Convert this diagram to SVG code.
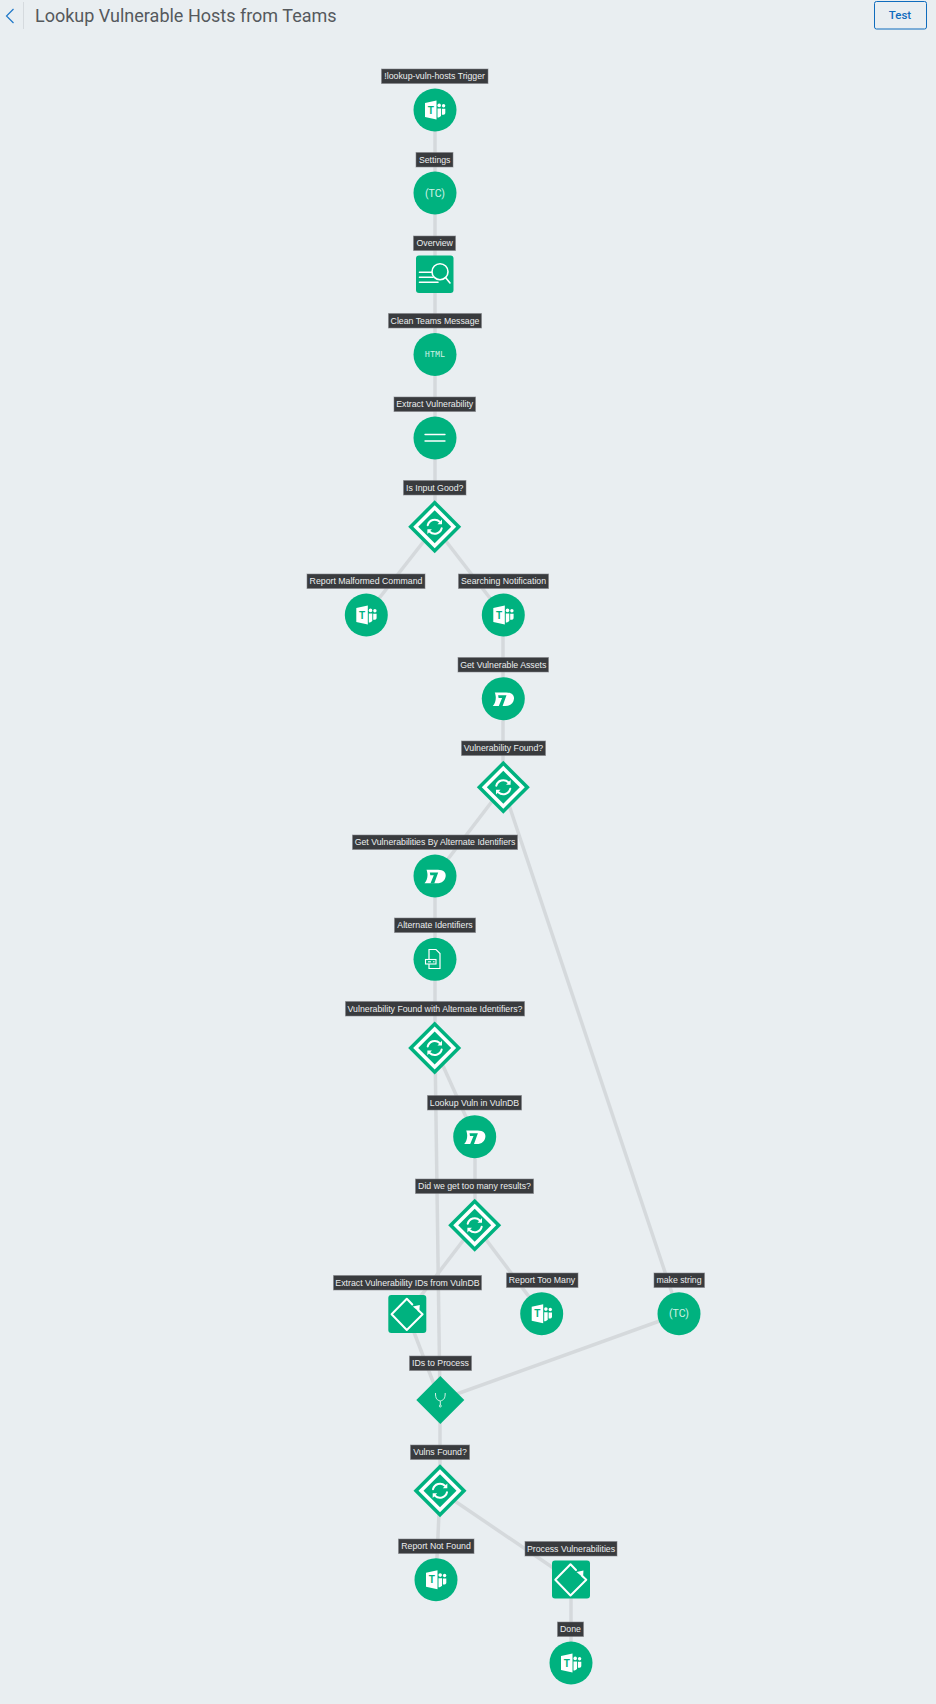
<svg xmlns="http://www.w3.org/2000/svg" width="936" height="1704" viewBox="0 0 936 1704">
<style>
.lbl rect{fill:#333538;stroke:#7d8083;stroke-width:1;stroke-opacity:.55;fill-opacity:.97}
.lbl text{font:8.75px "Liberation Sans",Arial,sans-serif;fill:#eceeef;text-anchor:middle}
.g{fill:#00b27f}
.w{fill:#fff}
.ln{fill:none;stroke:#fff;stroke-linecap:round}
.tc{font:400 10.5px Roboto,sans-serif;fill:#d0f3e6;text-anchor:middle}
#connectors line{stroke:#d5d9dc;stroke-width:3.5}
</style>
<defs>
<circle id="disc" r="21.5" class="g"/>
<g id="teams">
<circle r="21.5" class="g"/>
<path class="w" d="M-10 -7L1.5 -9.5V9.5L-10 7Z"/>
<text x="-4.3" y="3.6" font-family="Liberation Sans,sans-serif" font-weight="700" font-size="10" text-anchor="middle" fill="#00b27f">T</text>
<circle cx="4.2" cy="-4.6" r="1.8" class="w"/>
<circle cx="8.6" cy="-4.2" r="1.7" class="w"/>
<path class="w" d="M2.5 -1.5H6V5.5C5.5 7 4 7.5 2.5 7.5Z"/>
<path class="w" d="M6.9 -1.2H10.3V3C10.3 4.5 8.5 5 6.9 4.8Z"/>
</g>
<g id="d7">
<circle r="21.5" class="g"/>
<path class="w" d="M-8.5 -6.3H3C8.5 -6.3 11 -3.5 10.7 0C10.3 4.5 7 7.3 2 7.3H-10.5C-8.5 5 -7.5 2 -7.5 -1C-7.5 -3 -8 -5 -8.5 -6.3Z"/>
<path class="g" d="M-5.2 -3.4H3.2L-.8 7.6H-4.6L-1.2 -.8H-4.7Z"/>
</g>
<g id="cond">
<path class="g" d="M0 -26.5L26.5 0L0 26.5L-26.5 0Z"/>
<path class="w" d="M0 -21.5L21.5 0L0 21.5L-21.5 0Z"/>
<path class="g" d="M0 -16.5L16.5 0L0 16.5L-16.5 0Z"/>
<path class="ln" stroke-width="2" stroke-linecap="butt" d="M-7 -1.5A7.2 7.2 0 0 1 5 -5"/>
<path class="ln" stroke-width="2" stroke-linecap="butt" d="M7 1.5A7.2 7.2 0 0 1 -5 5"/>
<path class="w" d="M7.3 -7.3V-2.5H2.8Z"/>
<path class="w" d="M-7.3 7.3V2.5H-2.8Z"/>
</g>
<g id="loop">
<rect x="-19" y="-19" width="38" height="38" rx="3" class="g"/>
<path class="ln" stroke-width="2" stroke-linejoin="round" d="M5 -9.5L-.5 -15.3L-15.7 .3L-.5 16L15.3 .3L11 -3.7"/>
<path class="w" d="M5.5 -7.5L12.5 -9L12 -2Z"/>
</g>
</defs>
<rect width="936" height="1704" fill="#e9eef1"/>
<g id="header">
<path d="M13.5 9L6.5 16L13.5 23" fill="none" stroke="#1f78c8" stroke-width="1.2"/>
<line x1="23.5" y1="2" x2="23.5" y2="29" stroke="#d5dade" stroke-width="1"/>
<text x="35" y="22" font-family="Roboto,sans-serif" font-size="18" fill="#55595d">Lookup Vulnerable Hosts from Teams</text>
<rect x="874.5" y="1.5" width="52" height="27.5" rx="2" fill="none" stroke="#0f6cbd" stroke-width="1"/>
<text x="900" y="19" font-family="Roboto,sans-serif" font-size="11.5" font-weight="500" text-anchor="middle" fill="#0f6cbd">Test</text>
</g>
<g id="connectors">
<line x1="435" y1="110" x2="435" y2="527"/>
<line x1="435" y1="527" x2="366" y2="615"/>
<line x1="435" y1="527" x2="503" y2="615"/>
<line x1="503" y1="615" x2="503" y2="787"/>
<line x1="503" y1="787" x2="435" y2="876"/>
<line x1="503" y1="787" x2="679" y2="1314"/>
<line x1="435" y1="876" x2="435" y2="1048"/>
<line x1="435" y1="1048" x2="475" y2="1137"/>
<line x1="435" y1="1048" x2="440" y2="1400"/>
<line x1="475" y1="1137" x2="475" y2="1225"/>
<line x1="475" y1="1225" x2="407" y2="1314"/>
<line x1="475" y1="1225" x2="542" y2="1314"/>
<line x1="407" y1="1314" x2="440" y2="1400"/>
<line x1="679" y1="1314" x2="440" y2="1400"/>
<line x1="440" y1="1400" x2="440" y2="1491"/>
<line x1="440" y1="1491" x2="436" y2="1580"/>
<line x1="440" y1="1491" x2="571" y2="1580"/>
<line x1="571" y1="1580" x2="571" y2="1663"/>
</g>
<g id="n1"><use href="#teams" x="435" y="110"/><g class="lbl"><rect x="381.5" y="69" width="106.5" height="14.5"/><text x="434.7" y="79.2">!lookup-vuln-hosts Trigger</text></g></g>
<g id="n2"><use href="#disc" x="435" y="193"/><text x="435" y="196.7" class="tc">(TC)</text><g class="lbl"><rect x="416" y="152.5" width="37" height="14.5"/><text x="434.7" y="162.7">Settings</text></g></g>
<g id="n3"><rect x="416" y="255.5" width="37.5" height="37.5" rx="3" class="g"/><circle cx="440" cy="271.7" r="8" fill="none" stroke="#fff" stroke-width="1.6"/><path class="ln" stroke-width="1.6" d="M445.5 277.5L450 283M419.5 272.3H431.5M419.5 277.3H433M419.5 282.3H438"/><g class="lbl"><rect x="413.5" y="236" width="42" height="14.5"/><text x="434.7" y="246.2">Overview</text></g></g>
<g id="n4"><use href="#disc" x="435" y="354.5"/><text x="435" y="357.3" font-family="Liberation Mono,monospace" font-size="8.5" text-anchor="middle" fill="#d0f3e6">HTML</text><g class="lbl"><rect x="388.5" y="313.5" width="93" height="14.5"/><text x="435" y="323.7">Clean Teams Message</text></g></g>
<g id="n5"><use href="#disc" x="435" y="438"/><path class="ln" stroke-width="1.3" d="M425 434.5H445M425 441H445"/><g class="lbl"><rect x="394" y="397" width="81.5" height="14.5"/><text x="434.7" y="407.2">Extract Vulnerability</text></g></g>
<g id="n6"><use href="#cond" x="434.7" y="526.7"/><g class="lbl"><rect x="403.5" y="480.5" width="62.5" height="14.5"/><text x="434.7" y="490.7">Is Input Good?</text></g></g>
<g id="n7"><use href="#teams" x="366.3" y="615"/><g class="lbl"><rect x="307" y="574" width="118" height="14.5"/><text x="366" y="584.2">Report Malformed Command</text></g></g>
<g id="n8"><use href="#teams" x="503.3" y="615"/><g class="lbl"><rect x="458.5" y="574" width="90" height="14.5"/><text x="503.5" y="584.2">Searching Notification</text></g></g>
<g id="n9"><use href="#d7" x="503.3" y="698.7"/><g class="lbl"><rect x="458" y="657.5" width="90.5" height="14.5"/><text x="503.3" y="667.7">Get Vulnerable Assets</text></g></g>
<g id="n10"><use href="#cond" x="503.3" y="787.3"/><g class="lbl"><rect x="461.5" y="741" width="84" height="14.5"/><text x="503.5" y="751.2">Vulnerability Found?</text></g></g>
<g id="n11"><use href="#d7" x="435" y="876"/><g class="lbl"><rect x="352.5" y="835" width="165" height="14.5"/><text x="435" y="845.2">Get Vulnerabilities By Alternate Identifiers</text></g></g>
<g id="n12"><use href="#disc" x="435" y="959.3"/><path d="M429 949.5H436L440 953.5V968.5H429Z" fill="none" stroke="#fff" stroke-width="1.2"/><rect x="425.5" y="959.5" width="10.5" height="4.5" fill="#00b27f" stroke="#fff" stroke-width="1.1"/><path d="M428 961.8H431M433 961.8H434.5" stroke="#fff" stroke-width="1"/><g class="lbl"><rect x="394.5" y="918" width="81" height="14.5"/><text x="435" y="928.2">Alternate Identifiers</text></g></g>
<g id="n13"><use href="#cond" x="434.7" y="1048"/><g class="lbl"><rect x="345.5" y="1001.5" width="179" height="14.5"/><text x="435" y="1011.7">Vulnerability Found with Alternate Identifiers?</text></g></g>
<g id="n14"><use href="#d7" x="474.7" y="1136.7"/><g class="lbl"><rect x="427.5" y="1095.5" width="94" height="14.5"/><text x="474.5" y="1105.7">Lookup Vuln in VulnDB</text></g></g>
<g id="n15"><use href="#cond" x="474.7" y="1225.3"/><g class="lbl"><rect x="415.5" y="1179" width="118" height="14.5"/><text x="474.5" y="1189.2">Did we get too many results?</text></g></g>
<g id="n16"><use href="#loop" x="407.3" y="1314"/><g class="lbl"><rect x="333.5" y="1275.5" width="148" height="14.5"/><text x="407.5" y="1285.7">Extract Vulnerability IDs from VulnDB</text></g></g>
<g id="n17"><use href="#teams" x="541.7" y="1313.7"/><g class="lbl"><rect x="506.5" y="1273" width="71.5" height="14.5"/><text x="542" y="1283.2">Report Too Many</text></g></g>
<g id="n18"><use href="#disc" x="679" y="1313.7"/><text x="679" y="1317.4" class="tc">(TC)</text><g class="lbl"><rect x="654" y="1273" width="50.5" height="14.5"/><text x="679" y="1283.2">make string</text></g></g>
<g id="n19"><path class="g" d="M440.3 1376L464.3 1400L440.3 1424L416.3 1400Z"/><path d="M435.5 1393C435.5 1399 437 1400 440.3 1401C443.5 1400 445.2 1399 445.2 1393M440.3 1401V1405" fill="none" stroke="#d0f3e6" stroke-width="1"/><circle cx="440.3" cy="1406" r="1" fill="none" stroke="#d0f3e6"/><g class="lbl"><rect x="409.5" y="1356" width="62" height="14.5"/><text x="440.5" y="1366.2">IDs to Process</text></g></g>
<g id="n20"><use href="#cond" x="440" y="1490.7"/><g class="lbl"><rect x="410.5" y="1445" width="59" height="14.5"/><text x="440" y="1455.2">Vulns Found?</text></g></g>
<g id="n21"><use href="#teams" x="436" y="1579.7"/><g class="lbl"><rect x="398.5" y="1539" width="75.5" height="14.5"/><text x="436" y="1549.2">Report Not Found</text></g></g>
<g id="n22"><use href="#loop" x="571" y="1579.5"/><g class="lbl"><rect x="525" y="1541.5" width="92" height="14.5"/><text x="571" y="1551.7">Process Vulnerabilities</text></g></g>
<g id="n23"><use href="#teams" x="571" y="1663"/><g class="lbl"><rect x="557.5" y="1622" width="26" height="14.5"/><text x="570.5" y="1632.2">Done</text></g></g>
</svg>
